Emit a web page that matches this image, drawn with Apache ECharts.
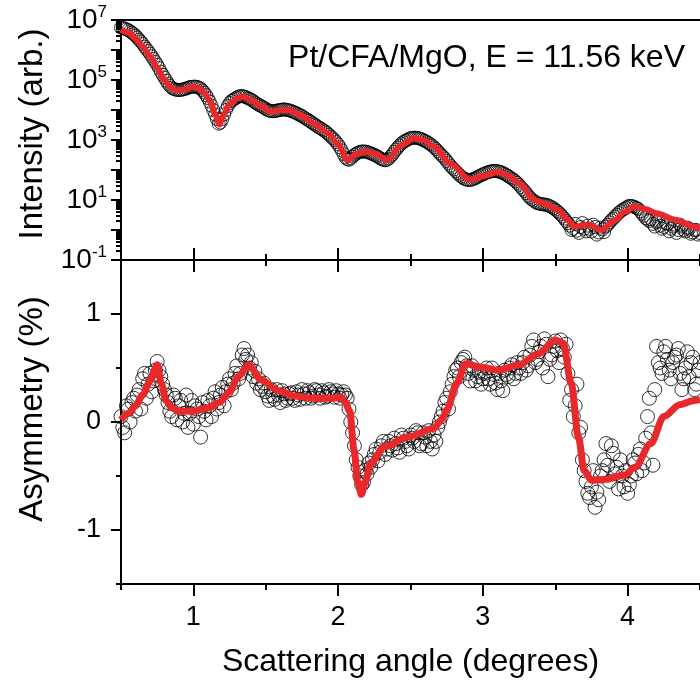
<!DOCTYPE html>
<html><head><meta charset="utf-8">
<script src="https://cdn.jsdelivr.net/npm/echarts@6/dist/echarts.min.js"></script>
<style>html,body{margin:0;padding:0;background:#fff}#c{width:700px;height:683px}</style>
</head><body><div id="c"></div><script>
// measured scattering angles (degrees), first scan
const angle = [
0.500,0.525,0.550,0.575,0.600,0.625,0.650,0.675,0.700,0.725,
0.750,0.775,0.800,0.825,0.850,0.875,0.900,0.925,0.950,0.975,
1.000,1.025,1.050,1.075,1.100,1.125,1.150,1.175,1.200,1.225,
1.250,1.275,1.300,1.325,1.350,1.375,1.400,1.425,1.450,1.475,
1.500,1.525,1.550,1.575,1.600,1.625,1.650,1.675,1.700,1.725,
1.750,1.775,1.800,1.825,1.850,1.875,1.900,1.925,1.950,1.975,
2.000,2.025,2.050,2.075,2.100,2.125,2.150,2.175,2.200,2.225,
2.250,2.275,2.300,2.325,2.350,2.375,2.400,2.425,2.450,2.475,
2.500,2.525,2.550,2.575,2.600,2.625,2.650,2.675,2.700,2.725,
2.750,2.775,2.800,2.825,2.850,2.875,2.900,2.925,2.950,2.975,
3.000,3.025,3.050,3.075,3.100,3.125,3.150,3.175,3.200,3.225,
3.250,3.275,3.300,3.325,3.350,3.375,3.400,3.425,3.450,3.475,
3.500,3.525,3.550,3.575,3.600,3.625,3.650,3.675,3.700,3.725,
3.750,3.775,3.800,3.825,3.850,3.875,3.900,3.925,3.950,3.975,
4.000,4.025,4.050,4.075,4.100,4.125,4.150,4.175,4.200,4.225,
4.250,4.275,4.300,4.325,4.350,4.375,4.400,4.425,4.450,4.475,
4.500];
const intensity = [
5.6e6,5.2e6,4.6e6,3.8e6,3.0e6,2.2e6,1.6e6,1.1e6,7.6e5,5.0e5,
3.2e5,1.9e5,1.2e5,7.6e4,5.5e4,4.8e4,4.6e4,4.8e4,5.2e4,5.8e4,
6.0e4,5.9e4,5.2e4,3.8e4,2.5e4,1.4e4,7.1e3,3.5e3,5.0e3,1.0e4,
1.7e4,2.2e4,2.6e4,2.9e4,2.8e4,2.5e4,2.2e4,1.8e4,1.5e4,1.3e4,
1.1e4,9.5e3,9.1e3,9.5e3,1.0e4,1.05e4,1.0e4,9.3e3,8.3e3,7.2e3,
6.3e3,5.2e3,4.4e3,3.6e3,3.0e3,2.5e3,2.1e3,1.7e3,1.3e3,1.0e3,
7.1e2,4.5e2,2.6e2,2.2e2,2.8e2,3.5e2,4.0e2,4.2e2,4.0e2,3.6e2,
3.2e2,2.8e2,2.3e2,2.1e2,2.4e2,3.3e2,4.8e2,6.6e2,8.5e2,1.0e3,
1.15e3,1.2e3,1.17e3,1.07e3,9.3e2,7.9e2,6.5e2,5.0e2,3.7e2,2.8e2,
2.0e2,1.4e2,1.05e2,79,60,50,46,48,54,63,
72,81,89,93,91,85,74,63,52,42,
32,23,17,12,9.5,7.9,7.4,7.1,6.6,5.8,
4.8,3.8,2.8,2.0,1.4,1.1,0.95,1.26,1.1,1.4,
0.89,1.26,0.83,1.05,1.3,1.8,2.4,3.2,4.2,5.0,
6.0,6.3,5.8,5.0,3.5,2.5,2.0,1.6,1.8,1.4,
1.26,1.6,1.1,1.5,1.0,1.3,0.89,1.1,0.83,1.0,
0.8];
const asymmetry = [
0.05,-0.10,0.12,0.18,0.10,0.30,0.40,0.22,0.45,0.38,
0.56,0.42,0.30,0.18,0.05,0.22,0.15,0.00,0.25,0.08,
-0.02,0.12,-0.14,0.10,0.20,0.05,0.28,0.18,0.32,0.28,
0.40,0.36,0.52,0.45,0.68,0.62,0.55,0.47,0.40,0.33,
0.28,0.20,0.24,0.30,0.18,0.26,0.22,0.27,0.20,0.25,
0.30,0.22,0.27,0.24,0.29,0.22,0.27,0.24,0.28,0.23,
0.26,0.25,0.25,0.12,-0.10,-0.35,-0.50,-0.56,-0.48,-0.42,
-0.30,-0.36,-0.22,-0.30,-0.18,-0.26,-0.20,-0.28,-0.15,-0.22,
-0.12,-0.18,-0.10,-0.20,-0.14,-0.08,-0.25,-0.18,0.00,0.10,
0.22,0.28,0.42,0.50,0.55,0.60,0.45,0.52,0.38,0.46,
0.40,0.50,0.35,0.44,0.30,0.38,0.48,0.42,0.53,0.45,
0.50,0.55,0.48,0.62,0.76,0.58,0.70,0.77,0.42,0.62,
0.75,0.55,0.68,0.72,0.20,0.05,0.35,-0.05,-0.45,-0.66,
-0.60,-0.79,-0.72,-0.45,-0.20,-0.55,-0.29,-0.42,-0.35,-0.60,
-0.66,-0.50,-0.38,-0.30,-0.45,-0.15,0.22,-0.40,0.70,0.50,
0.65,0.58,0.40,0.60,0.68,0.30,0.50,0.42,0.60,0.35,
0.55];
// second, interleaved scan
const angleMid = [
0.5125,0.5375,0.5625,0.5875,0.6125,0.6375,0.6625,0.6875,0.7125,0.7375,
0.7625,0.7875,0.8125,0.8375,0.8625,0.8875,0.9125,0.9375,0.9625,0.9875,
1.0125,1.0375,1.0625,1.0875,1.1125,1.1375,1.1625,1.1875,1.2125,1.2375,
1.2625,1.2875,1.3125,1.3375,1.3625,1.3875,1.4125,1.4375,1.4625,1.4875,
1.5125,1.5375,1.5625,1.5875,1.6125,1.6375,1.6625,1.6875,1.7125,1.7375,
1.7625,1.7875,1.8125,1.8375,1.8625,1.8875,1.9125,1.9375,1.9625,1.9875,
2.0125,2.0375,2.0625,2.0875,2.1125,2.1375,2.1625,2.1875,2.2125,2.2375,
2.2625,2.2875,2.3125,2.3375,2.3625,2.3875,2.4125,2.4375,2.4625,2.4875,
2.5125,2.5375,2.5625,2.5875,2.6125,2.6375,2.6625,2.6875,2.7125,2.7375,
2.7625,2.7875,2.8125,2.8375,2.8625,2.8875,2.9125,2.9375,2.9625,2.9875,
3.0125,3.0375,3.0625,3.0875,3.1125,3.1375,3.1625,3.1875,3.2125,3.2375,
3.2625,3.2875,3.3125,3.3375,3.3625,3.3875,3.4125,3.4375,3.4625,3.4875,
3.5125,3.5375,3.5625,3.5875,3.6125,3.6375,3.6625,3.6875,3.7125,3.7375,
3.7625,3.7875,3.8125,3.8375,3.8625,3.8875,3.9125,3.9375,3.9625,3.9875,
4.0125,4.0375,4.0625,4.0875,4.1125,4.1375,4.1625,4.1875,4.2125,4.2375,
4.2625,4.2875,4.3125,4.3375,4.3625,4.3875,4.4125,4.4375,4.4625,4.4875];
const intensityMid = [
5.4e6,4.9e6,4.2e6,3.4e6,2.6e6,1.9e6,1.3e6,9.2e5,6.2e5,4.0e5,
2.5e5,1.5e5,9.5e4,6.4e4,5.1e4,4.7e4,4.7e4,5.0e4,5.5e4,5.9e4,
6.0e4,5.6e4,4.5e4,3.1e4,1.9e4,1.0e4,5.0e3,3.8e3,7.2e3,1.35e4,
2.0e4,2.4e4,2.8e4,2.9e4,2.7e4,2.35e4,2.0e4,1.65e4,1.4e4,1.2e4,
1.0e4,9.2e3,9.2e3,9.8e3,1.03e4,1.03e4,9.7e3,8.8e3,7.8e3,6.7e3,
5.7e3,4.8e3,4.0e3,3.3e3,2.7e3,2.3e3,1.9e3,1.5e3,1.15e3,8.5e2,
5.7e2,3.4e2,2.3e2,2.4e2,3.2e2,3.8e2,4.1e2,4.1e2,3.8e2,3.4e2,
3.0e2,2.5e2,2.2e2,2.2e2,2.8e2,4.0e2,5.6e2,7.6e2,9.3e2,1.08e3,
1.18e3,1.19e3,1.12e3,1.0e3,8.6e2,7.2e2,5.7e2,4.3e2,3.2e2,2.4e2,
1.7e2,1.2e2,91,69,55,48,47,51,58,67,
76,85,91,92,88,80,68,57,47,37,
27,20,14,10.5,8.6,7.6,7.2,6.9,6.2,5.3,
4.3,3.3,2.4,1.7,1.0,1.6,0.8,1.7,0.9,1.1,
1.5,0.7,1.2,0.85,1.5,2.1,2.8,3.7,4.6,5.5,
6.4,6.1,5.4,4.2,3.0,2.2,2.3,1.3,2.0,1.1,
1.7,0.9,1.3,0.8,1.5,1.0,1.2,0.75,1.0,0.7];
const asymmetryMid = [
-0.05,0.15,0.00,0.22,0.25,0.12,0.45,0.35,0.28,0.48,
0.48,0.35,0.25,0.10,0.25,0.02,0.20,0.08,-0.05,0.20,
0.15,0.05,0.18,0.02,0.15,0.22,0.12,0.25,0.15,0.35,
0.30,0.45,0.40,0.62,0.58,0.50,0.42,0.36,0.30,0.36,
0.24,0.30,0.21,0.25,0.29,0.20,0.26,0.22,0.28,0.21,
0.26,0.29,0.22,0.30,0.25,0.29,0.23,0.30,0.26,0.29,
0.22,0.28,0.22,0.00,-0.22,-0.42,-0.58,-0.45,-0.38,-0.35,
-0.25,-0.28,-0.18,-0.25,-0.22,-0.15,-0.24,-0.12,-0.18,-0.25,
-0.15,-0.08,-0.22,-0.10,-0.22,-0.18,-0.12,-0.05,0.05,0.18,
0.12,0.35,0.48,0.42,0.58,0.52,0.38,0.48,0.42,0.35,
0.45,0.40,0.50,0.36,0.45,0.29,0.44,0.50,0.40,0.55,
0.45,0.60,0.52,0.70,0.55,0.65,0.50,0.72,0.58,0.70,
0.66,0.76,0.60,0.45,0.30,0.15,-0.10,-0.35,-0.55,-0.70,
-0.45,-0.65,-0.50,-0.35,-0.40,-0.22,-0.48,-0.62,-0.50,-0.45,
-0.58,-0.35,-0.48,-0.25,-0.38,0.05,-0.10,0.30,0.55,0.45,
0.70,0.48,0.55,0.62,0.45,0.40,0.65,0.55,0.30,0.48];
// fitted curves
const fitAngleTop = [0.50,0.55,0.60,0.65,0.70,0.75,0.80,0.84,0.88,0.93,
0.99,1.04,1.08,1.12,1.15,1.18,1.21,1.25,1.30,1.34,
1.40,1.47,1.54,1.60,1.66,1.74,1.83,1.93,2.00,2.065,
2.13,2.20,2.27,2.34,2.43,2.52,2.59,2.66,2.78,2.91,
3.00,3.11,3.18,3.25,3.36,3.44,3.52,3.58,3.635,3.73,
3.82,3.91,3.98,4.045,4.12,4.20,4.33,4.455,4.50];
const fitIntensity = [4.8e6,3.8e6,2.5e6,1.3e6,6.3e5,2.6e5,1.0e5,5.6e4,4.5e4,4.7e4,
5.9e4,5.4e4,3.5e4,1.8e4,7.1e3,3.3e3,7.1e3,1.6e4,2.4e4,2.75e4,
2.1e4,1.3e4,8.7e3,1.0e4,1.0e4,6.8e3,3.5e3,1.7e3,7.1e2,2.1e2,
3.5e2,4.1e2,3.2e2,2.1e2,6.3e2,1.15e3,1.0e3,6.0e2,1.6e2,47,
63,87,63,36,10,7.1,4.7,2.2,1.3,1.5,
1.0,2.1,4.0,6.0,5.0,3.6,2.2,1.3,1.05];
const fitAngleBottom = [0.50,0.55,0.60,0.65,0.70,0.75,0.78,0.81,0.85,0.90,
1.00,1.10,1.18,1.25,1.31,1.38,1.47,1.59,1.70,1.82,
1.95,2.02,2.05,2.08,2.11,2.135,2.16,2.19,2.22,2.32,
2.48,2.66,2.72,2.75,2.82,2.88,2.98,3.11,3.25,3.38,
3.50,3.555,3.61,3.66,3.70,3.75,3.85,3.98,4.05,4.16,
4.25,4.36,4.46,4.50];
const fitAsymmetry = [0.02,0.08,0.15,0.25,0.38,0.53,0.35,0.20,0.13,0.10,
0.10,0.13,0.18,0.28,0.42,0.53,0.39,0.29,0.24,0.22,
0.22,0.23,0.18,0.10,-0.26,-0.55,-0.67,-0.55,-0.39,-0.23,
-0.14,-0.06,0.03,0.11,0.36,0.54,0.51,0.48,0.53,0.63,
0.76,0.73,0.36,-0.14,-0.45,-0.54,-0.53,-0.49,-0.42,-0.20,
0.05,0.16,0.20,0.21];
// ticks
const xMajorTicks = [1,2,3,4];
const xMinorTicks = [0.5,1.5,2.5,3.5,4.5];
const intensityMajorTicks = [0.1,1,10,100,1e3,1e4,1e5,1e6,1e7];
const intensityLabelTicks = [0.1,10,1e3,1e5,1e7];
const intensityMinorTicks = [0.2,0.3,0.4,0.5,0.6,0.7,0.8,0.9,
2,3,4,5,6,7,8,9,20,30,40,50,60,70,80,90,
200,300,400,500,600,700,800,900,2e3,3e3,4e3,5e3,6e3,7e3,8e3,9e3,
2e4,3e4,4e4,5e4,6e4,7e4,8e4,9e4,2e5,3e5,4e5,5e5,6e5,7e5,8e5,9e5,
2e6,3e6,4e6,5e6,6e6,7e6,8e6,9e6];
const asymMajorTicks = [-1,0,1];
const asymMinorTicks = [-1.5,-0.5,0.5,1.5];

const F = 'Liberation Sans';
const BLACK = '#000';
const RED = '#e8282b';
const line = {show:true, onZero:false, lineStyle:{color:BLACK, width:2}};
const noLine = {show:false, onZero:false};
const tk = (vals, len, inside) => ({show:true, inside:inside, length:len, customValues:vals, lineStyle:{color:BLACK, width:2}});
const noLab = {show:false};
const pairs = (xs, ys) => xs.map((a,i)=>[a, ys[i]]);

const chart = echarts.init(document.getElementById('c'), null, {renderer:'canvas'});
const xBase = {type:'value', min:0.5, max:4.5, splitLine:{show:false}};
const circle = (size) => ({type:'scatter', symbol:'circle', symbolSize:size,
  itemStyle:{color:'rgba(0,0,0,0)', borderColor:BLACK, borderWidth:1}});
const option = {
  animation:false,
  backgroundColor:'#fff',
  title:{text:'Pt/CFA/MgO, E = 11.56 keV', right:10, top:37,
    textStyle:{fontFamily:F, fontSize:32, fontWeight:'normal', color:BLACK}},
  grid:[
    {left:121, top:20, width:586, height:240},
    {left:121, top:260, width:586, height:324}
  ],
  xAxis:[
    Object.assign({}, xBase, {gridIndex:0, position:'bottom', axisLine:line, axisTick:tk(xMajorTicks,12,true), axisLabel:noLab}),
    Object.assign({}, xBase, {gridIndex:0, position:'bottom', axisLine:noLine, axisTick:tk(xMinorTicks,6,true), axisLabel:noLab}),
    Object.assign({}, xBase, {gridIndex:0, position:'top', axisLine:line, axisTick:{show:false}, axisLabel:noLab}),
    Object.assign({}, xBase, {gridIndex:1, position:'bottom', axisLine:line, axisTick:tk(xMajorTicks,12,false),
      axisLabel:{show:true, customValues:xMajorTicks, fontFamily:F, fontSize:27, color:BLACK, margin:20},
      name:'Scattering angle (degrees)', nameLocation:'middle', nameGap:62,
      nameTextStyle:{fontFamily:F, fontSize:32, color:BLACK}}),
    Object.assign({}, xBase, {gridIndex:1, position:'bottom', axisLine:noLine, axisTick:tk(xMinorTicks,6,false), axisLabel:noLab}),
    Object.assign({}, xBase, {gridIndex:1, position:'top', axisLine:line, axisTick:tk(xMajorTicks,12,true), axisLabel:noLab}),
    Object.assign({}, xBase, {gridIndex:1, position:'top', axisLine:noLine, axisTick:tk(xMinorTicks,6,true), axisLabel:noLab})
  ],
  yAxis:[
    {gridIndex:0, type:'log', logBase:10, min:0.1, max:1e7, position:'left', splitLine:{show:false},
      axisLine:line, axisTick:tk(intensityMajorTicks,10,false),
      axisLabel:{show:true, customValues:intensityLabelTicks, margin:14,
        formatter:function(v){ return '{b|10}{s|' + Math.round(Math.log10(v)) + '}'; },
        rich:{b:{fontFamily:F, fontSize:28, color:BLACK, lineHeight:32},
              s:{fontFamily:F, fontSize:17, color:BLACK, lineHeight:17, verticalAlign:'top'}}},
      name:'Intensity (arb.)', nameLocation:'middle', nameGap:72,
      nameTextStyle:{fontFamily:F, fontSize:33, color:BLACK, padding:[0,0,0,12]}},
    {gridIndex:0, type:'log', logBase:10, min:0.1, max:1e7, position:'left', splitLine:{show:false},
      axisLine:noLine, axisTick:tk(intensityMinorTicks,5,false), axisLabel:noLab},
    {gridIndex:1, type:'value', min:-1.5, max:1.5, position:'left', splitLine:{show:false},
      axisLine:line, axisTick:tk(asymMajorTicks,10,false),
      axisLabel:{show:true, customValues:asymMajorTicks, fontFamily:F, fontSize:27, color:BLACK, margin:20},
      name:'Asymmetry (%)', nameLocation:'middle', nameGap:72,
      nameTextStyle:{fontFamily:F, fontSize:33, color:BLACK, padding:[0,0,0,26]}},
    {gridIndex:1, type:'value', min:-1.5, max:1.5, position:'left', splitLine:{show:false},
      axisLine:noLine, axisTick:tk(asymMinorTicks,5,false), axisLabel:noLab}
  ],
  series:[
    Object.assign({}, circle(13), {xAxisIndex:0, yAxisIndex:0,
      data:pairs(angle, intensity).concat(pairs(angleMid, intensityMid))}),
    {type:'line', xAxisIndex:0, yAxisIndex:0, showSymbol:false, smooth:0.3, smoothMonotone:'x',
      lineStyle:{color:RED, width:6}, data:pairs(fitAngleTop, fitIntensity)},
    Object.assign({}, circle(14), {xAxisIndex:3, yAxisIndex:2,
      data:pairs(angle, asymmetry).concat(pairs(angleMid, asymmetryMid))}),
    {type:'line', xAxisIndex:3, yAxisIndex:2, showSymbol:false, smooth:0.3, smoothMonotone:'x',
      lineStyle:{color:RED, width:7}, data:pairs(fitAngleBottom, fitAsymmetry)}
  ]
};
chart.setOption(option);
</script></body></html>
